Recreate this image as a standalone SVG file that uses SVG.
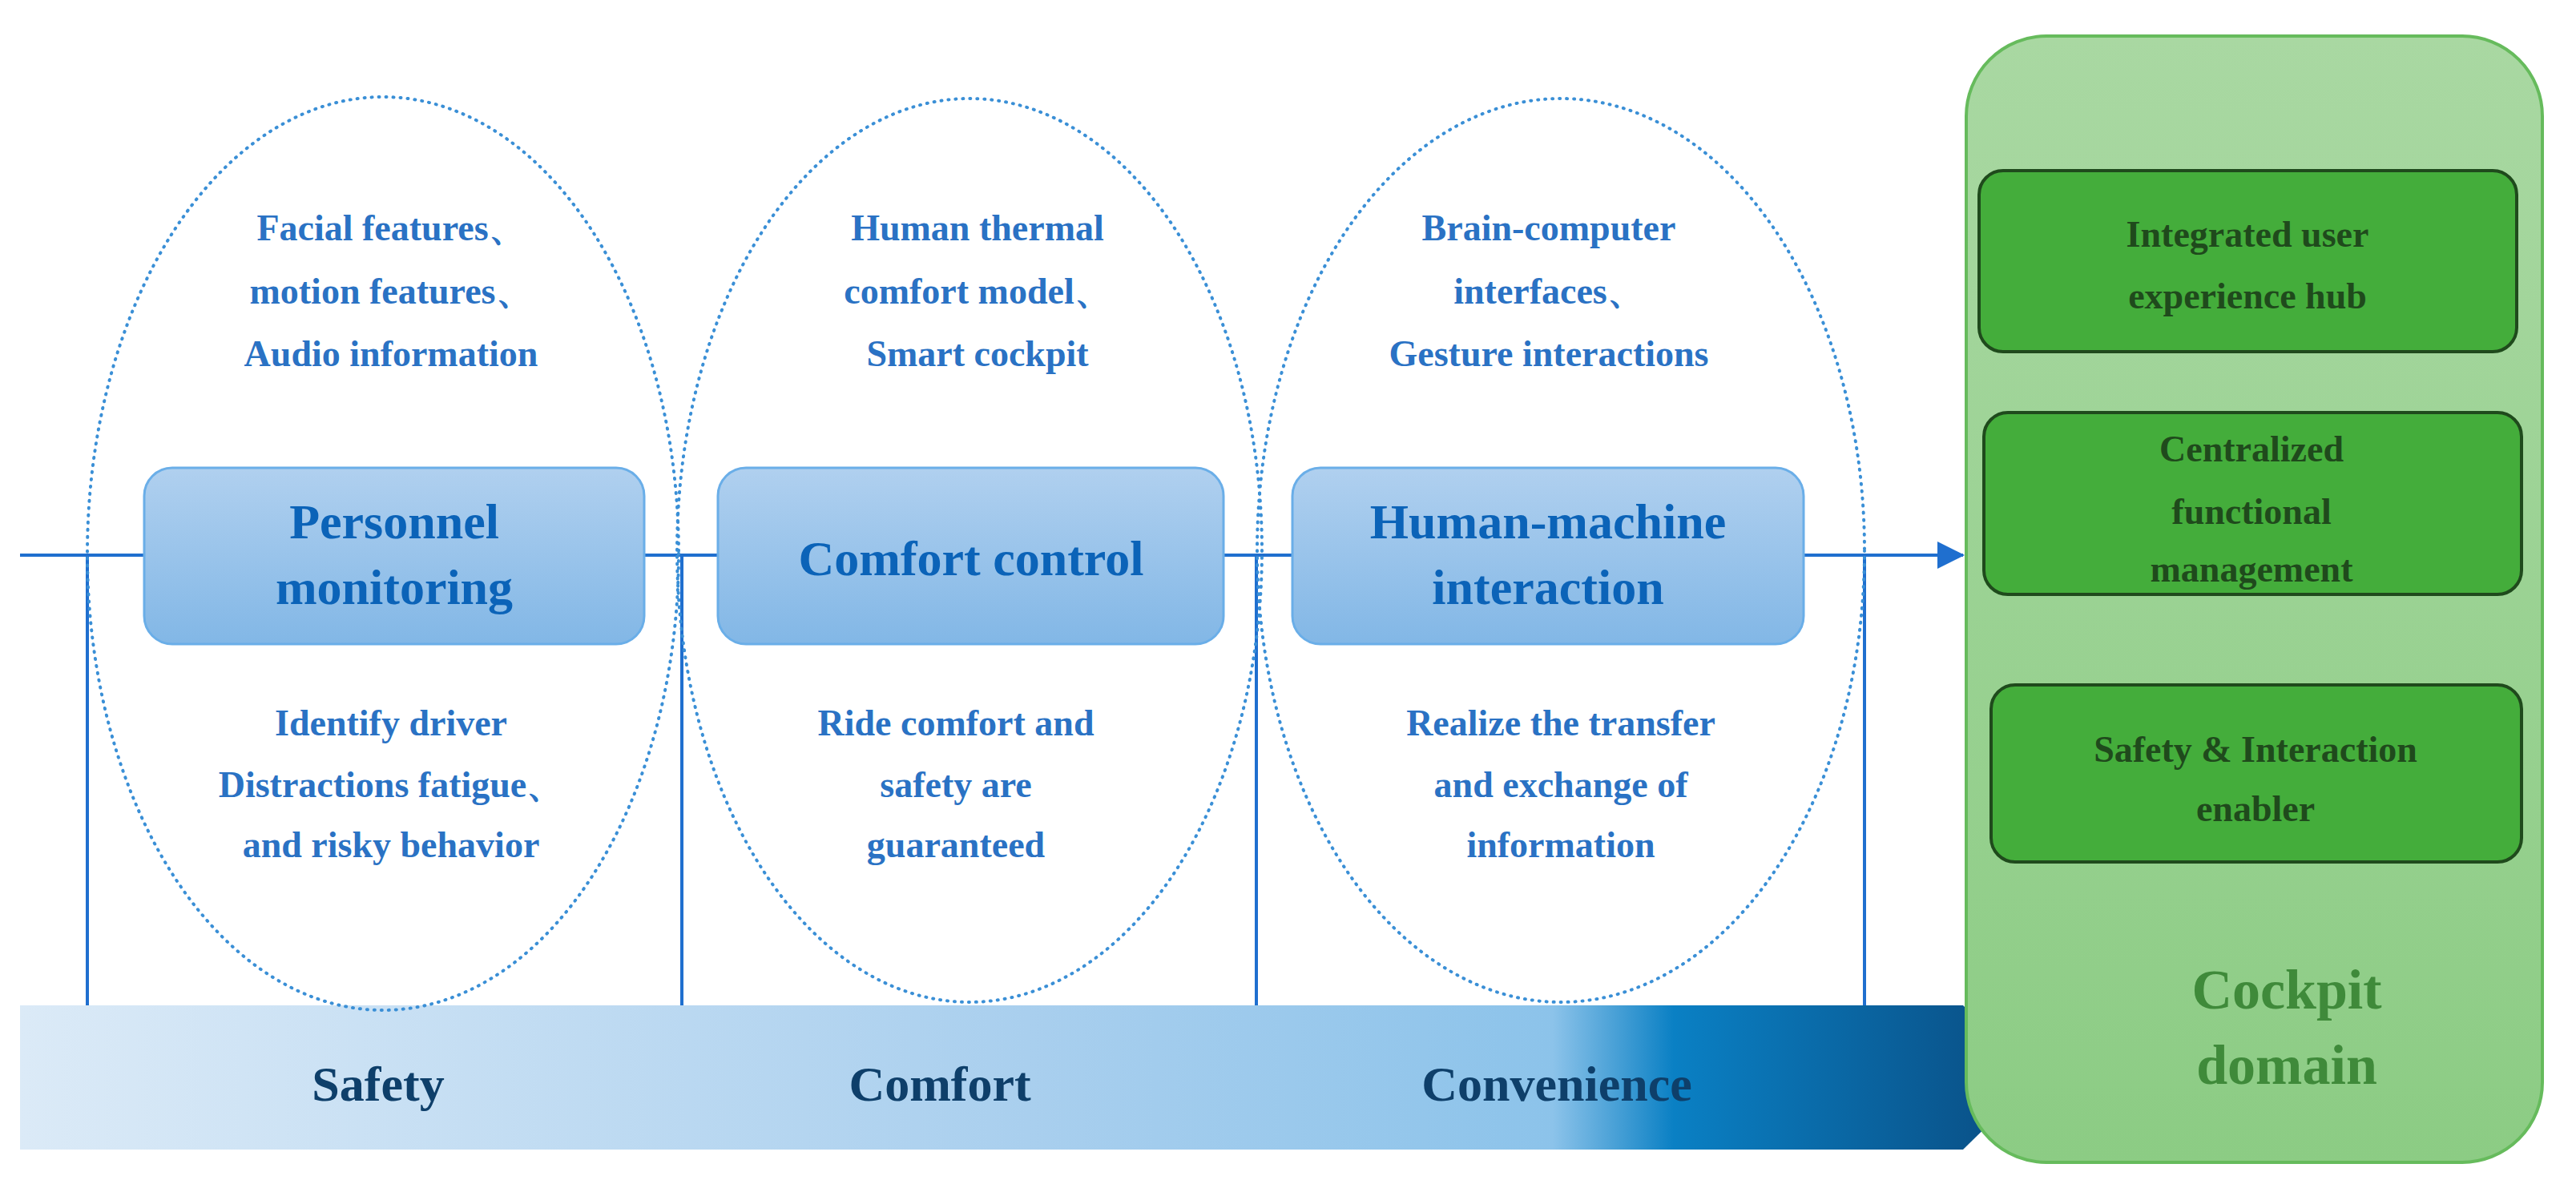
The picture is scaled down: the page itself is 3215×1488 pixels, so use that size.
<svg xmlns="http://www.w3.org/2000/svg" width="3215" height="1488" viewBox="0 0 3215 1488">
<defs>
<linearGradient id="box" x1="0" y1="0" x2="0" y2="1"><stop offset="0" stop-color="#b0d0ef"/><stop offset="1" stop-color="#82b7e6"/></linearGradient>
<linearGradient id="bar" x1="0" y1="0" x2="1" y2="0"><stop offset="0" stop-color="#dbeaf7"/><stop offset="0.5" stop-color="#a9cfee"/><stop offset="0.76" stop-color="#8cc3ea"/><stop offset="0.82" stop-color="#0a80c4"/><stop offset="1" stop-color="#0a4b80"/></linearGradient>
<linearGradient id="green" x1="0" y1="0" x2="0" y2="1"><stop offset="0" stop-color="#a9d8a2"/><stop offset="1" stop-color="#8ccc84"/></linearGradient>
<marker id="ah" markerWidth="10" markerHeight="10" refX="9" refY="5" orient="auto" markerUnits="userSpaceOnUse" viewBox="0 0 10 10"><path d="M0,0 L10,5 L0,10 z" fill="#1f6fcf"/></marker>
</defs>
<style>
text{font-family:"Liberation Serif","Times New Roman",serif;font-weight:bold;text-anchor:middle}
.ell{fill:none;stroke:#3a8fd6;stroke-width:4;stroke-dasharray:1 8;stroke-linecap:round}
.bx{fill:url(#box);stroke:#6aaee8;stroke-width:3}
.t{font-size:46px;fill:#2a72c4}
.h{font-size:62px;fill:#0b63b8}
.b{font-size:62px;fill:#0e3f6a}
.g{fill:#44ad3b;stroke:#1f4a1c;stroke-width:4}
.gt{font-size:46px;fill:#1f4a1c}
.ln{stroke:#1f6fcf;stroke-width:4;fill:none}
</style>
<g id="bar-arrow">
<polygon points="25,1255 2450,1255 2542,1345 2450,1435 25,1435" fill="url(#bar)"/>
<text class="b" x="472" y="1374">Safety</text>
<text class="b" x="1173" y="1374">Comfort</text>
<text class="b" x="1943" y="1374">Convenience</text>
</g>
<g id="cockpit-domain">
<rect x="2454" y="45" width="719" height="1406" rx="100" fill="url(#green)" stroke="#66bb5c" stroke-width="4"/>
<text x="2854" y="1259" font-size="70" fill="#3f8a3a">Cockpit</text>
<text x="2854" y="1353" font-size="70" fill="#3f8a3a">domain</text>
</g>
<g id="connectors">
<line class="ln" x1="25" y1="693" x2="180" y2="693"/>
<line class="ln" x1="804" y1="693" x2="896" y2="693"/>
<line class="ln" x1="1527" y1="693" x2="1613" y2="693"/>
<line class="ln" x1="2251" y1="693" x2="2450" y2="693" marker-end="url(#ah)" style="stroke-width:4"/>
<path d="M2418,676 L2452,693 L2418,710 z" fill="#1f6fcf"/>
<line class="ln" x1="109" y1="693" x2="109" y2="1255"/>
<line class="ln" x1="851" y1="693" x2="851" y2="1255"/>
<line class="ln" x1="1568" y1="693" x2="1568" y2="1255"/>
<line class="ln" x1="2327" y1="693" x2="2327" y2="1255"/>
</g>
<g id="personnel">
<ellipse class="ell" cx="478" cy="691" rx="369" ry="570"/>
<text class="t" x="488" y="300">Facial features、</text>
<text class="t" x="488" y="379">motion features、</text>
<text class="t" x="488" y="457">Audio information</text>
<rect class="bx" x="180" y="584" width="624" height="220" rx="35"/>
<text class="h" x="492" y="672">Personnel</text>
<text class="h" x="492" y="754">monitoring</text>
<text class="t" x="488" y="918">Identify driver</text>
<text class="t" x="488" y="995">Distractions fatigue、</text>
<text class="t" x="488" y="1070">and risky behavior</text>
</g>
<g id="comfort">
<ellipse class="ell" cx="1210" cy="687" rx="365" ry="564"/>
<text class="t" x="1220" y="300">Human  thermal</text>
<text class="t" x="1220" y="379">comfort model、</text>
<text class="t" x="1220" y="457">Smart cockpit</text>
<rect class="bx" x="896" y="584" width="631" height="220" rx="35"/>
<text class="h" x="1212" y="718">Comfort control</text>
<text class="t" x="1193" y="918">Ride comfort and</text>
<text class="t" x="1193" y="995">safety are</text>
<text class="t" x="1193" y="1070">guaranteed</text>
</g>
<g id="hmi">
<ellipse class="ell" cx="1948" cy="687" rx="379" ry="564"/>
<text class="t" x="1933" y="300">Brain-computer</text>
<text class="t" x="1933" y="379">interfaces、</text>
<text class="t" x="1933" y="457">Gesture interactions</text>
<rect class="bx" x="1613" y="584" width="638" height="220" rx="35"/>
<text class="h" x="1932" y="672">Human-machine</text>
<text class="h" x="1932" y="754">interaction</text>
<text class="t" x="1948" y="918">Realize the transfer</text>
<text class="t" x="1948" y="995">and exchange of</text>
<text class="t" x="1948" y="1070">information</text>
</g>
<g id="hub">
<rect class="g" x="2470" y="213" width="671" height="226" rx="30"/>
<text class="gt" x="2805" y="308">Integrated user</text>
<text class="gt" x="2805" y="385">experience hub</text>
</g>
<g id="centralized">
<rect class="g" x="2476" y="515" width="671" height="227" rx="30"/>
<text class="gt" x="2810" y="576">Centralized</text>
<text class="gt" x="2810" y="654">functional</text>
<text class="gt" x="2810" y="726">management</text>
</g>
<g id="enabler">
<rect class="g" x="2485" y="855" width="662" height="221" rx="30"/>
<text class="gt" x="2815" y="951">Safety &amp; Interaction</text>
<text class="gt" x="2815" y="1025">enabler</text>
</g>
</svg>
